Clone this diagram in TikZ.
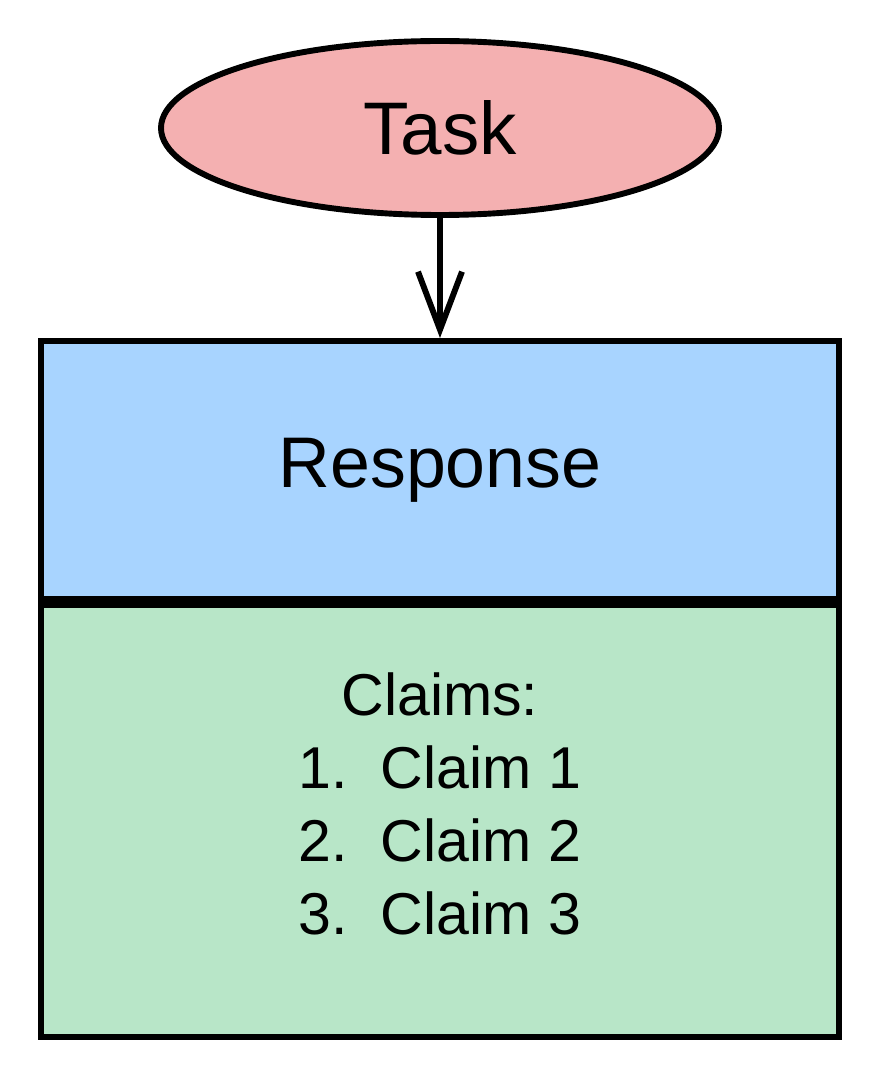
\documentclass[tikz,border=0pt]{standalone}
\usepackage{fontspec}
\setmainfont{Liberation Sans}
\usetikzlibrary{shapes.geometric,arrows.meta,positioning}
\definecolor{taskred}{HTML}{F4B0B1}
\definecolor{respblue}{HTML}{A8D4FF}
\definecolor{claimgreen}{HTML}{B8E6C8}
\begin{document}
\begin{tikzpicture}[line width=4.2pt,
    box/.style={draw, rectangle, minimum width=19.95cm, align=center},
    every node/.style={inner sep=0pt}]
  \useasboundingbox (0,0) rectangle (22,-27);
  \node[draw, ellipse, fill=taskred, minimum width=13.95cm, minimum height=4.35cm,
        font=\fontsize{53}{60}\selectfont] (task) at (11,-3.2) {Task};
  \node[box, fill=respblue, minimum height=6.45cm, anchor=north,
        font=\fontsize{51}{60}\selectfont] (response) at (11,-8.45) {Response};
  \node[box, fill=claimgreen, minimum height=10.8cm, anchor=north]
        (claims) at (response.south) {};
  \node[font=\fontsize{42}{52}\selectfont, align=center] (list) at (11,-20.1)
    {Claims:\\1.\ \ Claim 1\\2.\ \ Claim 2\\3.\ \ Claim 3};
  \draw[-{Straight Barb[length=1.45cm,width=1.1cm]}] (task) -- (response);
\end{tikzpicture}
\end{document}
